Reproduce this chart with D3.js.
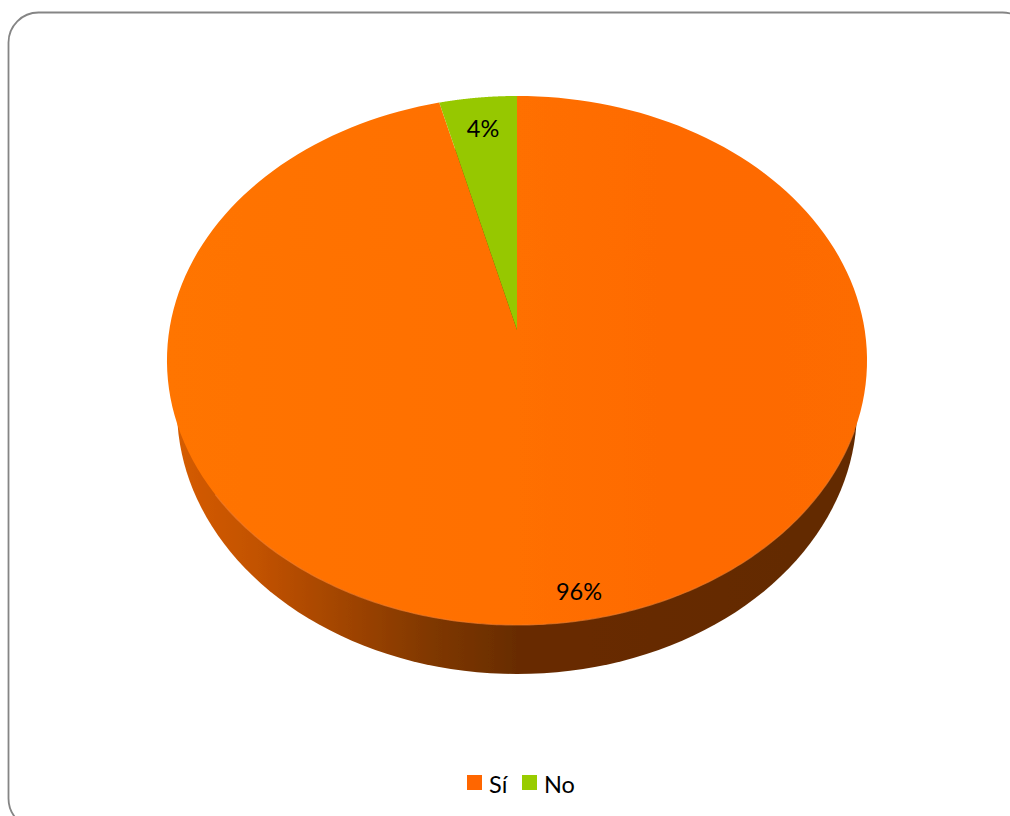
<!DOCTYPE html>
<html><head><meta charset="utf-8">
<script src="https://cdn.jsdelivr.net/npm/d3@7/dist/d3.min.js"></script>
<style>html,body{margin:0;padding:0;background:#fff;overflow:hidden}svg{display:block}text{font-family:Lato,"Open Sans",sans-serif;fill:#000}</style>
</head><body><svg id="c" width="1010" height="816"></svg>
<script>
const categories = ["Sí", "No"];
const values = [96, 4];
const percentLabels = ["96%", "4%"];
const sliceColors = ["#fd6b00", "#96c800"];

const svg = d3.select("#c");
const defs = svg.append("defs");

// soft edges, as in the upscaled source
defs.append("filter").attr("id","soft").attr("x","-5%").attr("y","-5%").attr("width","110%").attr("height","110%")
  .append("feGaussianBlur").attr("stdDeviation",0.7);

const topGrad = defs.append("linearGradient").attr("id","topFace").attr("gradientUnits","userSpaceOnUse")
  .attr("x1",167).attr("x2",867).attr("y1",0).attr("y2",0);
[[0,"#ff7405"],[0.45,"#ff7000"],[0.75,"#fe6a00"],[1,"#fd6c00"]].forEach(s=>topGrad.append("stop").attr("offset",s[0]).attr("stop-color",s[1]));

const sideGrad = defs.append("linearGradient").attr("id","side").attr("gradientUnits","userSpaceOnUse")
  .attr("x1",175).attr("x2",860).attr("y1",0).attr("y2",0);
[[0,"#d65c00"],[0.12,"#c25200"],[0.25,"#a04400"],[0.38,"#7e3700"],[0.5,"#682c00"],[1,"#632b00"]].forEach(s=>sideGrad.append("stop").attr("offset",s[0]).attr("stop-color",s[1]));

// Perspective disc: centre of the circle lands above the ellipse centre
const k = 0.1153;
function disc(cx, cy, a, b) {
  return (angle, r = 1) => {
    const u = r * Math.sin(angle), v = r * Math.cos(angle), w = 1 + k * v;
    return [cx + a * u / w, cy - b * v / w];
  };
}
const topDisc = disc(517, 330, 347.7, 261);
const baseDisc = disc(517, 379, 337.7, 261);

const pie = d3.pie().sort(null).value(d => d)(values);
const line = d3.line();
function sample(a0, a1) { return d3.range(0, 181).map(i => a0 + (a1 - a0) * i / 180); }

const g = svg.append("g").attr("filter","url(#soft)");

// Base disc gives the visible side wall
g.append("path")
  .attr("d", line(sample(0, 2 * Math.PI).map(t => baseDisc(t))) + "Z")
  .attr("fill","url(#side)");

// Top face slices
g.selectAll("path.slice").data(pie).enter().append("path").attr("class","slice")
  .attr("d", d => line([topDisc(0,0), ...sample(d.startAngle, d.endAngle).map(t => topDisc(t))]) + "Z")
  .attr("fill", (d,i) => i === 0 ? "url(#topFace)" : sliceColors[i]);

// Lit front rim of the top face
g.append("path")
  .attr("d", line(sample(Math.PI * 0.62, Math.PI * 1.3).map(t => topDisc(t))))
  .attr("fill","none").attr("stroke","#f07a28").attr("stroke-width",1.2).attr("stroke-opacity",0.7);

// Percent labels
const labelRadius = [0.905, 0.855];
const labelShift = [18, 0];
svg.selectAll("text.pct").data(pie).enter().append("text").attr("class","pct")
  .attr("x", (d,i) => topDisc((d.startAngle + d.endAngle) / 2, labelRadius[i])[0] + labelShift[i])
  .attr("y", (d,i) => topDisc((d.startAngle + d.endAngle) / 2, labelRadius[i])[1])
  .attr("dy", "0.35em").attr("text-anchor","middle").attr("font-size",23.5)
  .text((d,i) => percentLabels[i]);

// Legend
const legendX = d3.scalePoint().domain(categories).range([467, 522]);
const legend = svg.selectAll("g.lg").data(categories).enter().append("g").attr("class","lg")
  .attr("transform", d => `translate(${legendX(d)},775)`);
legend.append("rect").attr("width",15).attr("height",15).attr("fill",(d,i)=>i===0?"#ff6600":"#99cc00");
legend.append("text").attr("x",22).attr("y",18).attr("font-size",23.5).text(d=>d);

// Rounded frame, running off the right and bottom of the picture
svg.append("rect").attr("x",8.5).attr("y",12.5).attr("width",1024).attr("height",816).attr("rx",30).attr("ry",30)
  .attr("fill","none").attr("stroke","#858585").attr("stroke-width",1.8);
</script></body></html>
